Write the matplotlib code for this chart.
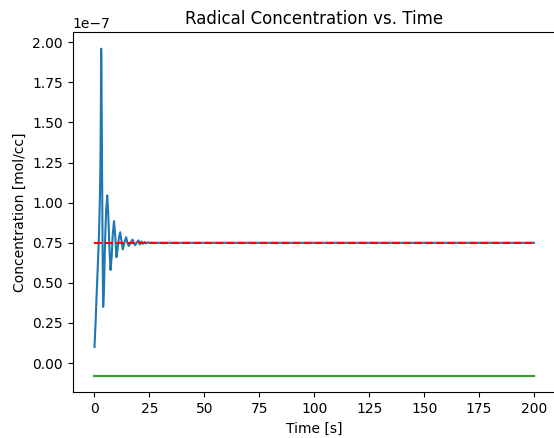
import numpy as np
import matplotlib
matplotlib.use("Agg")
import matplotlib.pyplot as plt

# Radical concentration (units of 1e-7 mol/cc)
time_s = [0, 0.5, 0.9, 1.5, 2.1, 2.5, 2.75, 2.95, 3.05, 3.2, 3.45, 3.7, 3.95,
          4.3, 4.8, 5.3, 5.8, 6.3, 6.8, 7.3, 7.8, 8.3, 8.9, 9.4, 10.0, 10.6,
          11.1, 11.7, 12.3, 12.9, 13.6, 14.4, 15.0, 15.6, 16.4, 17.3, 17.9,
          18.5, 19.2, 20.0, 20.7, 21.4, 22.1, 22.8, 23.5, 24.2, 25.0, 30.0,
          50.0, 100.0, 150.0, 200.0]
radical = [0.10, 0.25, 0.40, 0.60, 0.82, 1.05, 1.30, 1.70, 1.96, 1.75, 1.20,
           0.70, 0.35, 0.45, 0.75, 0.95, 1.045, 0.92, 0.72, 0.58, 0.66, 0.80,
           0.885, 0.80, 0.66, 0.72, 0.78, 0.816, 0.76, 0.708, 0.75, 0.785,
           0.75, 0.73, 0.75, 0.77, 0.75, 0.735, 0.752, 0.765, 0.74, 0.758,
           0.744, 0.755, 0.746, 0.753, 0.75, 0.75, 0.75, 0.75, 0.75, 0.75]

# steady state and lower reference line
t_span = [0, 200]
steady = [0.75, 0.75]
lower = [-0.08, -0.08]

scale = 1e-7

fig = plt.figure(figsize=(5.54, 4.38), dpi=100)
ax = fig.add_axes([72.5 / 554, (438 - 392.3) / 438, (556 - 72.5) / 554, 360 / 438])

ax.plot(time_s, np.array(radical) * scale)
ax.plot(t_span, np.array(steady) * scale, "r--")
ax.plot(t_span, np.array(lower) * scale, color="C2")

ax.set_title("Radical Concentration vs. Time")
ax.set_xlabel("Time [s]")
ax.set_ylabel("Concentration [mol/cc]")

fig.savefig("out.png", dpi=100)
